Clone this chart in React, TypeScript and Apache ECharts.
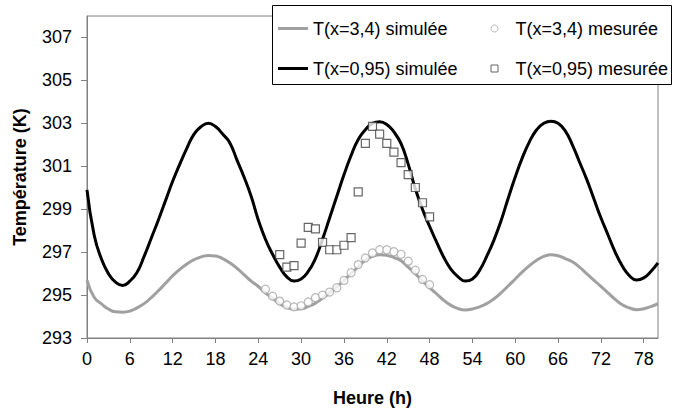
import React, { useEffect, useRef } from "react";
import * as echarts from "echarts";

// Hours of the simulated series
const hours = [
  0, 1, 2, 3, 4, 5, 6, 7, 8, 9, 10, 11, 12, 13, 14, 15, 16, 17, 18, 19, 20,
  21, 22, 23, 24, 25, 26, 27, 28, 29, 30, 31, 32, 33, 34, 35, 36, 37, 38, 39, 40,
  41, 42, 43, 44, 45, 46, 47, 48, 49, 50, 51, 52, 53, 54, 55, 56, 57, 58, 59, 60,
  61, 62, 63, 64, 65, 66, 67, 68, 69, 70, 71, 72, 73, 74, 75, 76, 77, 78, 79, 80,
];

// T(x=3,4) simulée
const simX34 = [
  295.7, 294.9, 294.6, 294.35, 294.22, 294.2, 294.25, 294.4, 294.6, 294.88, 295.2,
  295.55, 295.9, 296.2, 296.45, 296.65, 296.78, 296.84, 296.82, 296.7, 296.5,
  296.25, 295.95, 295.65, 295.4, 295.1, 294.85, 294.6, 294.42, 294.35, 294.36,
  294.47, 294.62, 294.85, 295.1, 295.38, 295.68, 296.0, 296.32, 296.62, 296.8,
  296.88, 296.85, 296.75, 296.6, 296.3, 296.0, 295.65, 295.35, 295.05, 294.75,
  294.52, 294.37, 294.31, 294.35, 294.45, 294.6, 294.82, 295.1, 295.42, 295.75,
  296.08, 296.37, 296.62, 296.8, 296.88, 296.83, 296.7, 296.55, 296.3, 296.0,
  295.7, 295.4, 295.1, 294.8, 294.55, 294.4, 294.32, 294.36, 294.46, 294.6,
];

// T(x=0,95) simulée
const simX095 = [
  299.9, 297.8, 296.7, 296.0, 295.6, 295.45, 295.65, 296.05, 296.8, 297.65, 298.5,
  299.4, 300.3, 301.1, 301.85, 302.5, 302.85, 303.0, 302.85, 302.5, 302.1,
  301.3, 300.5, 299.6, 298.5, 297.6, 296.9, 296.3, 295.85, 295.65, 295.75,
  296.1, 296.7, 297.6, 298.6, 299.6, 300.6, 301.5, 302.25, 302.7, 303.0,
  303.07, 302.95, 302.6, 302.05, 301.1, 299.95, 299.0, 298.2, 297.45, 296.75,
  296.2, 295.85, 295.65, 295.75, 296.15, 296.8, 297.55, 298.45, 299.5, 300.5,
  301.4, 302.15, 302.7, 303.0, 303.1, 303.0, 302.65, 302.0, 301.2, 300.4,
  299.5, 298.6, 297.8, 297.0, 296.35, 295.9, 295.7, 295.8, 296.1, 296.5,
];

// T(x=3,4) mesurée
const measX34Hours = [
  25, 26, 27, 28, 29, 30, 31, 32, 33, 34, 35, 36, 37, 38, 39, 40, 41, 42, 43, 44,
  45, 46, 47, 48,
];
const measX34 = [
  295.27, 294.95, 294.72, 294.54, 294.45, 294.5, 294.68, 294.88, 295.0, 295.14,
  295.34, 295.68, 296.04, 296.42, 296.73, 296.96, 297.11, 297.11, 297.02, 296.9,
  296.58, 296.16, 295.73, 295.48,
];

// T(x=0,95) mesurée
const measX095Hours = [
  27, 28, 29, 30, 31, 32, 33, 34, 35, 36, 37, 38, 39, 40, 41, 42, 43, 44, 45, 46,
  47, 48,
];
const measX095 = [
  296.88, 296.3, 296.37, 297.42, 298.15, 298.08, 297.45, 297.11, 297.11, 297.32,
  297.68, 299.81, 302.07, 302.86, 302.5, 302.07, 301.66, 301.17, 300.61, 300.01,
  299.3, 298.64,
];

const xTicks = [0, 6, 12, 18, 24, 30, 36, 42, 48, 54, 60, 66, 72, 78];
const yTicks = [293, 295, 297, 299, 301, 303, 305, 307];

const seriesNames = [
  "T(x=3,4) simulée",
  "T(x=3,4) mesurée",
  "T(x=0,95) simulée",
  "T(x=0,95) mesurée",
];

const FONT = "'Liberation Sans', Arial, Helvetica, sans-serif";

export default function App() {
  const ref = useRef<HTMLDivElement>(null);

  useEffect(() => {
    if (!ref.current) return;
    const chart = echarts.init(ref.current, undefined, { renderer: "svg" });

    const axisColor = "#808080";

    const option = {
      animation: false,
      backgroundColor: "#ffffff",
      textStyle: { fontFamily: FONT },
      grid: {
        left: 87,
        right: 17,
        top: 16,
        bottom: 71,
        show: true,
        borderColor: axisColor,
        borderWidth: 1,
        backgroundColor: "transparent",
      },
      xAxis: {
        type: "value",
        min: 0,
        max: 80,
        name: "Heure (h)",
        nameLocation: "middle",
        nameGap: 51,
        nameTextStyle: {
          fontSize: 18,
          fontWeight: "bold",
          color: "#000",
          fontFamily: FONT,
        },
        axisLine: { show: true, onZero: false, lineStyle: { color: axisColor, width: 1 } },
        axisTick: {
          show: true,
          inside: false,
          length: 5,
          lineStyle: { color: axisColor },
          customValues: xTicks,
        },
        axisLabel: {
          customValues: xTicks,
          fontSize: 18,
          color: "#000",
          margin: 12,
          fontFamily: FONT,
        },
        splitLine: { show: false },
      },
      yAxis: {
        type: "value",
        min: 293,
        max: 308,
        name: "Température (K)",
        nameLocation: "middle",
        nameGap: 58,
        nameRotate: 90,
        nameTextStyle: {
          fontSize: 18,
          fontWeight: "bold",
          color: "#000",
          fontFamily: FONT,
        },
        axisLine: { show: true, onZero: false, lineStyle: { color: axisColor, width: 1 } },
        axisTick: {
          show: true,
          inside: false,
          length: 6,
          lineStyle: { color: axisColor },
          customValues: yTicks,
        },
        axisLabel: {
          customValues: yTicks,
          fontSize: 18,
          color: "#000",
          margin: 15,
          fontFamily: FONT,
        },
        splitLine: { show: false },
      },
      graphic: [
        {
          type: "rect",
          silent: true,
          z: 5,
          shape: { x: 272.5, y: 5.5, width: 399, height: 79 },
          style: { fill: "#ffffff", stroke: "#000000", lineWidth: 1 },
        },
      ],
      legend: [
        {
          orient: "vertical",
          left: 278,
          top: 19.5,
          padding: 0,
          itemGap: 22,
          itemWidth: 30,
          itemHeight: 14,
          selectedMode: false,
          z: 10,
          textStyle: { fontSize: 18, color: "#000", fontFamily: FONT },
          data: [
            {
              name: seriesNames[0],
              icon: "path://M0,0L30,0L30,3L0,3Z",
              itemStyle: { color: "#a0a0a0", borderWidth: 0 },
            },
            {
              name: seriesNames[2],
              icon: "path://M0,0L30,0L30,3L0,3Z",
              itemStyle: { color: "#000000", borderWidth: 0 },
            },
          ],
        },
        {
          orient: "vertical",
          left: 490.5,
          top: 19.5,
          padding: 0,
          itemGap: 22,
          itemWidth: 32,
          itemHeight: 7,
          selectedMode: false,
          z: 10,
          textStyle: { fontSize: 18, color: "#000", fontFamily: FONT },
          data: [
            {
              name: seriesNames[1],
              icon: "circle",
              itemStyle: { color: "#ffffff", borderColor: "#a6a6a6", borderWidth: 1 },
            },
            {
              name: seriesNames[3],
              icon: "path://M0,0L10,0L10,10L0,10Z",
              itemStyle: { color: "#ffffff", borderColor: "#404040", borderWidth: 1 },
            },
          ],
        },
      ],
      series: [
        {
          name: seriesNames[0],
          type: "line",
          data: hours.map((h, i) => [h, simX34[i]]),
          symbol: "none",
          smooth: true,
          z: 2,
          lineStyle: { color: "#a0a0a0", width: 3 },
          itemStyle: { color: "#a0a0a0" },
        },
        {
          name: seriesNames[2],
          type: "line",
          data: hours.map((h, i) => [h, simX095[i]]),
          symbol: "none",
          smooth: true,
          z: 2,
          lineStyle: { color: "#000000", width: 3 },
          itemStyle: { color: "#000000" },
        },
        {
          name: seriesNames[1],
          type: "scatter",
          data: measX34Hours.map((h, i) => [h, measX34[i]]),
          symbol: "circle",
          symbolSize: 8,
          z: 3,
          itemStyle: { color: "#ffffff", borderColor: "#a6a6a6", borderWidth: 1.2 },
        },
        {
          name: seriesNames[3],
          type: "scatter",
          data: measX095Hours.map((h, i) => [h, measX095[i]]),
          symbol: "rect",
          symbolSize: 8,
          z: 4,
          itemStyle: { color: "#ffffff", borderColor: "#404040", borderWidth: 1.2 },
        },
      ],
    };

    chart.setOption(option as any);
    return () => {
      chart.dispose();
    };
  }, []);

  return (
    <div
      ref={ref}
      style={{
        position: "fixed",
        left: 0,
        top: 0,
        width: 675,
        height: 412,
        background: "#fff",
      }}
    />
  );
}
